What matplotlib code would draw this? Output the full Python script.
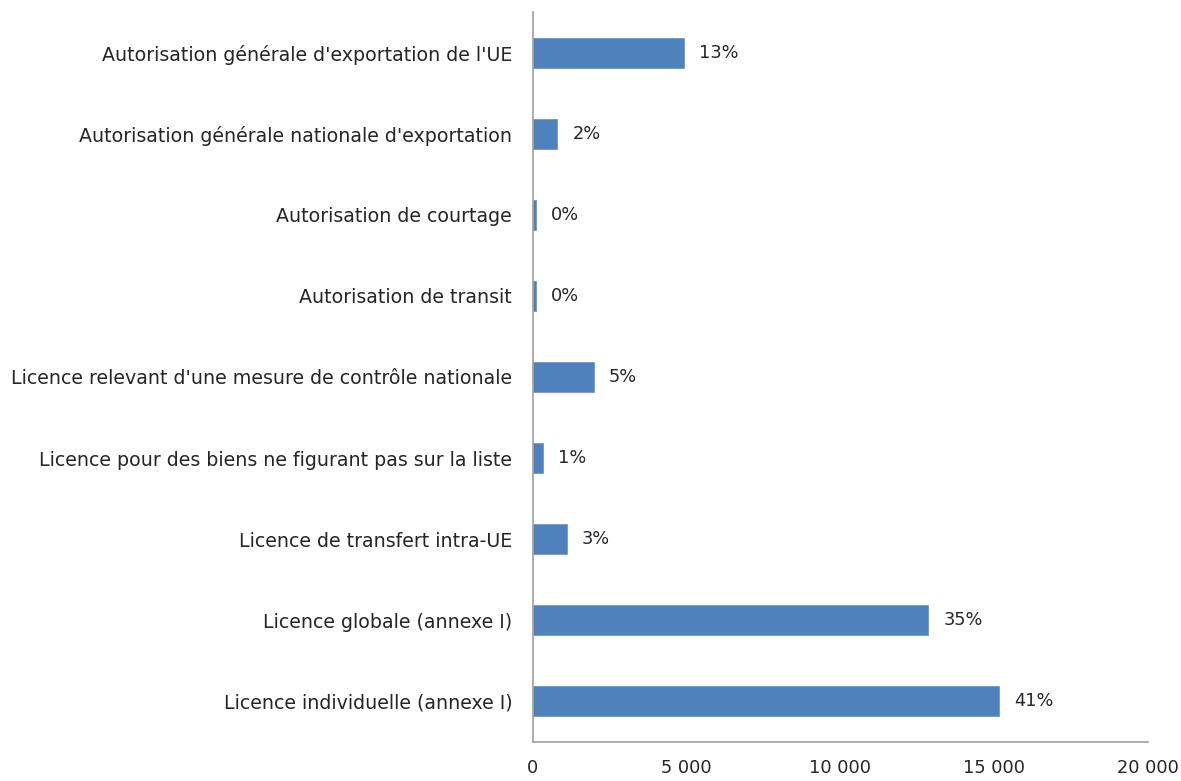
import matplotlib
matplotlib.use("Agg")
from matplotlib import pyplot as plt
from matplotlib.ticker import FuncFormatter

categories = [
    "Licence individuelle (annexe I)",
    "Licence globale (annexe I)",
    "Licence de transfert intra-UE",
    "Licence pour des biens ne figurant pas sur la liste",
    "Licence relevant d'une mesure de contrôle nationale",
    "Autorisation de transit",
    "Autorisation de courtage",
    "Autorisation générale nationale d'exportation",
    "Autorisation générale d'exportation de l'UE",
]
values = [15150, 12850, 1100, 330, 1980, 90, 90, 790, 4900]
shares = ["41%", "35%", "3%", "1%", "5%", "0%", "0%", "2%", "13%"]
x_ticks = [0, 5000, 10000, 15000, 20000]

plt.rcParams['font.family'] = ['DejaVu Sans']
FS = 12.8
TXT = "#262626"

fig = plt.figure(figsize=(11.81, 7.81), dpi=100)
ax = fig.add_axes([0.4513, 0.05, 0.5207, 0.9346])

y = range(len(categories))
ax.barh(y, values, height=0.37, color="#4F81BD", edgecolor="#6D97CB", linewidth=0.6)

for yi, v, s in zip(y, values, shares):
    ax.annotate(s, (v, yi), xytext=(11, 0), textcoords="offset points",
                va="center", ha="left", fontsize=FS, color=TXT)

ax.set_ylim(-0.5, len(categories) - 0.5)
ax.set_xlim(0, 20000)
ax.set_yticks(list(y))
ax.set_yticklabels(categories, fontsize=13.7, color=TXT)
ax.set_xticks(x_ticks)
ax.xaxis.set_major_formatter(FuncFormatter(lambda v, p: f"{int(v):,}".replace(",", " ")))
ax.tick_params(axis="x", length=0, pad=12, labelsize=FS, labelcolor=TXT)
ax.tick_params(axis="y", length=0, pad=15)

for side in ("top", "right"):
    ax.spines[side].set_visible(False)
for side in ("left", "bottom"):
    ax.spines[side].set_color("#A0A0A0")
    ax.spines[side].set_linewidth(1.2)

fig.savefig("out.png", dpi=100)
